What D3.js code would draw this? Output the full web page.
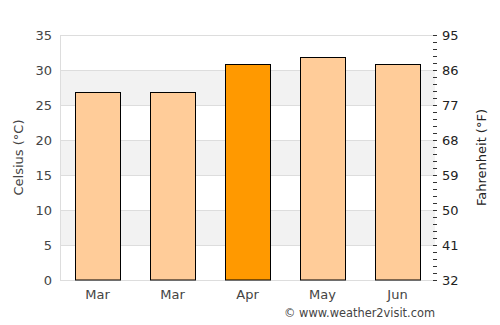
<!DOCTYPE html>
<html><head><meta charset="utf-8">
<script src="https://cdn.jsdelivr.net/npm/d3@7"></script>
<style>body{margin:0;background:#fff}text{font-family:"DejaVu Sans",sans-serif}</style>
</head><body><svg id="c" width="500" height="325"></svg>
<script>
const categories = ["Mar", "Mar", "Apr", "May", "Jun"];
const celsius = [26.8, 26.8, 30.8, 31.9, 30.8];
const highlight = [false, false, true, false, false];
const cTicks = [0, 5, 10, 15, 20, 25, 30, 35];
const fTicks = [32, 41, 50, 59, 68, 77, 86, 95];

const svg = d3.select("#c");
const m = {l: 60, r: 435, t: 35, b: 280};
const x = d3.scaleBand().domain(d3.range(categories.length)).range([m.l, m.r]).paddingInner(0.4).paddingOuter(0.2);
const y = d3.scaleLinear().domain([0, 35]).range([m.b, m.t]);
const yf = d3.scaleLinear().domain([32, 95]).range([m.b, m.t]);

// bands
for (let i = 0; i < cTicks.length - 1; i++) {
  if (i % 2 === 1) {
    svg.append("rect").attr("x", m.l).attr("width", m.r - m.l)
      .attr("y", y(cTicks[i + 1])).attr("height", y(cTicks[i]) - y(cTicks[i + 1]))
      .attr("fill", "#f2f2f2");
  }
}
// gridlines
svg.append("g").selectAll("line").data(cTicks).join("line")
  .attr("x1", m.l).attr("x2", m.r).attr("y1", d => y(d) + 0.5).attr("y2", d => y(d) + 0.5)
  .attr("stroke", "#dddddd").attr("stroke-width", 1);
svg.append("line").attr("x1", m.l + 0.5).attr("x2", m.l + 0.5).attr("y1", m.t).attr("y2", m.b)
  .attr("stroke", "#dddddd");

// bars
svg.append("g").selectAll("rect").data(celsius).join("rect")
  .attr("x", (d, i) => Math.round(x(i)) + 0.5).attr("width", Math.round(x.bandwidth()))
  .attr("y", d => Math.round(y(d)) + 0.5).attr("height", d => m.b - Math.round(y(d)) - 0.5)
  .attr("fill", (d, i) => highlight[i] ? "#ff9900" : "#ffcc99")
  .attr("stroke", "#000").attr("stroke-width", 1);

// left axis labels
const ax = d3.axisLeft(y).tickValues(cTicks).tickSize(0).tickPadding(8);
const gl = svg.append("g").attr("transform", `translate(${m.l},0)`).call(ax);
gl.select(".domain").remove();
gl.selectAll("text").attr("font-size", 13).attr("fill", "#444").attr("dy", "0.35em").attr("x", -8);

// right axis
const minor = d3.range(0, 36).map(c => 32 + c * 1.8);
svg.append("g").selectAll("line").data(minor).join("line")
  .attr("x1", m.r - 2).attr("x2", m.r + 2).attr("y1", d => Math.round(yf(d)) + 0.5).attr("y2", d => Math.round(yf(d)) + 0.5)
  .attr("stroke", "#333").attr("stroke-width", 1);
const ar = d3.axisRight(yf).tickValues(fTicks).tickSize(0).tickPadding(7);
const gr = svg.append("g").attr("transform", `translate(${m.r},0)`).call(ar);
gr.select(".domain").remove();
gr.selectAll("text").attr("font-size", 13).attr("fill", "#222").attr("dy", "0.35em");

// bottom axis labels
const xa = d3.axisBottom(x).tickFormat(i => categories[i]).tickSize(0).tickPadding(10);
const gb = svg.append("g").attr("transform", `translate(0,${m.b})`).call(xa);
gb.select(".domain").remove();
gb.selectAll("text").attr("font-size", 13).attr("fill", "#444");

// axis titles
svg.append("text").attr("transform", `translate(23,${(m.t + m.b) / 2}) rotate(-90)`)
  .attr("text-anchor", "middle").attr("font-size", 13).attr("fill", "#444").text("Celsius (°C)");
svg.append("text").attr("transform", `translate(486,${(m.t + m.b) / 2}) rotate(-90)`)
  .attr("text-anchor", "middle").attr("font-size", 13).attr("fill", "#222").text("Fahrenheit (°F)");

svg.append("text").attr("x", 435).attr("y", 317).attr("text-anchor", "end")
  .attr("font-size", 11.4).attr("fill", "#444").text("© www.weather2visit.com");
</script></body></html>
